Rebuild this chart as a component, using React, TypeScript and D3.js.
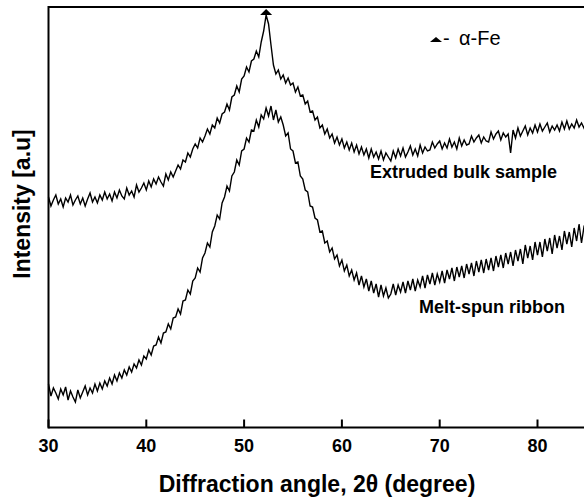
import * as d3 from "d3";

// XRD scan: 30..85 deg, 0.25 deg step
const scanStart = 30;
const scanStep = 0.25;

// intensity (a.u.), extruded bulk sample
const extruded = [
  231, 222, 228, 233, 224, 229, 221, 230, 226, 233, 223, 228, 232, 224, 230, 222,
  229, 235, 226, 231, 225, 233, 228, 236, 229, 234, 227, 236, 230, 238, 232, 229,
  240, 233, 237, 231, 243, 236, 240, 245, 238, 247, 241, 249, 244, 251, 246, 242,
  254, 248, 256, 251, 257, 263, 259, 268, 266, 275, 271, 279, 284, 280, 290, 286,
  292, 299, 294, 303, 300, 310, 305, 314, 316, 324, 318, 331, 333, 342, 336, 349,
  352, 361, 356, 367, 369, 377, 371, 386, 397, 413, 404, 383, 363, 354, 358, 349,
  353, 345, 350, 343, 345, 336, 341, 332, 333, 324, 327, 316, 317, 308, 311, 300,
  303, 294, 299, 290, 294, 285, 291, 283, 289, 280, 286, 278, 285, 276, 283, 274,
  281, 273, 279, 270, 279, 271, 276, 269, 277, 268, 275, 271, 267, 277, 270, 279,
  272, 280, 271, 276, 282, 273, 279, 272, 283, 275, 281, 277, 278, 286, 280, 284,
  287, 279, 285, 280, 289, 281, 286, 279, 290, 282, 288, 283, 284, 292, 286, 290,
  293, 285, 291, 287, 286, 296, 289, 294, 297, 288, 295, 291, 294, 275, 298, 290,
  300, 292, 297, 302, 293, 300, 295, 303, 296, 304, 297, 301, 305, 296, 302, 298,
  303, 297, 306, 299, 307, 299, 304, 300, 308, 301, 305, 300, 306,
];

// intensity (a.u.), melt-spun ribbon
const meltSpun = [
  44, 32, 40, 35, 29, 39, 33, 41, 28, 37, 31, 26, 38, 30, 36, 42,
  33, 40, 35, 44, 37, 45, 39, 47, 42, 50, 44, 53, 47, 55, 50, 58,
  53, 61, 56, 64, 60, 68, 63, 72, 69, 78, 73, 82, 83, 91, 85, 95,
  96, 104, 99, 110, 111, 119, 114, 127, 128, 138, 134, 147, 150, 160, 156, 170,
  175, 185, 181, 196, 202, 213, 209, 225, 231, 242, 237, 252, 256, 268, 263, 277,
  279, 290, 286, 298, 297, 308, 301, 313, 309, 320, 312, 322, 308, 318, 306, 311,
  303, 292, 295, 279, 277, 265, 266, 252, 249, 238, 236, 222, 221, 210, 208, 196,
  197, 185, 187, 176, 180, 169, 173, 162, 168, 157, 163, 152, 158, 148, 155, 143,
  152, 141, 149, 137, 147, 135, 144, 131, 143, 132, 140, 130, 134, 144, 133, 143,
  136, 146, 135, 147, 138, 149, 137, 148, 141, 152, 140, 153, 144, 155, 143, 154,
  146, 157, 145, 158, 149, 160, 147, 161, 151, 162, 150, 164, 154, 165, 152, 167,
  156, 168, 155, 169, 158, 170, 157, 172, 161, 173, 160, 175, 164, 176, 162, 178,
  167, 179, 164, 183, 170, 182, 168, 186, 173, 186, 171, 189, 177, 190, 174, 193,
  180, 192, 178, 197, 184, 196, 181, 200, 187, 204, 185, 201, 197,
];

const xTicks = [30, 40, 50, 60, 70, 80];
const alphaFePeaks = [52.25];

const width = 584;
const height = 502;
const font = "'Liberation Sans', Arial, sans-serif";

export default function App() {
  const x = d3.scaleLinear([30, 85], [48.5, 586.4]);
  const y = d3.scaleLinear([0, 421], [428, 7]);

  const line = d3
    .line<number>()
    .x((_, i) => x(scanStart + i * scanStep))
    .y((d) => y(d));

  const axisY = 427.5;

  return (
    <svg
      width={width}
      height={height}
      style={{ position: "absolute", left: 0, top: 0, background: "#fff" }}
      fontFamily={font}
    >
      {/* data */}
      <path d={line(extruded) ?? ""} fill="none" stroke="#000" strokeWidth={1.4} />
      <path d={line(meltSpun) ?? ""} fill="none" stroke="#000" strokeWidth={1.4} />

      {/* frame */}
      <line x1={48.5} y1={7} x2={width} y2={7} stroke="#000" strokeWidth={2} />
      <line x1={48.5} y1={6} x2={48.5} y2={axisY + 1} stroke="#000" strokeWidth={2} />
      <line x1={48.5} y1={axisY} x2={width} y2={axisY} stroke="#000" strokeWidth={2} />

      {/* ticks + labels */}
      {xTicks.map((t) => (
        <g key={t}>
          <line x1={x(t)} y1={axisY} x2={x(t)} y2={axisY - 8} stroke="#000" strokeWidth={2} />
          <text x={x(t)} y={452} textAnchor="middle" fontSize={18} fontWeight="bold">
            {t}
          </text>
        </g>
      ))}

      {/* peak markers */}
      {alphaFePeaks.map((p) => (
        <path
          key={p}
          d={`M${x(p) - 6},15 L${x(p) + 6},15 L${x(p)},9 Z`}
          fill="#000"
        />
      ))}

      {/* legend */}
      <path d="M430,42 L442,42 L436,37 Z" fill="#000" />
      <text x={443} y={45} fontSize={20}>
        -
      </text>
      <text x={459} y={45} fontSize={20}>
        α-Fe
      </text>

      {/* curve labels */}
      <text x={370} y={178} fontSize={18} fontWeight="bold">
        Extruded bulk sample
      </text>
      <text x={419} y={313} fontSize={18} fontWeight="bold">
        Melt-spun ribbon
      </text>

      {/* axis titles */}
      <text x={317} y={492} textAnchor="middle" fontSize={23} fontWeight="bold">
        Diffraction angle, 2θ (degree)
      </text>
      <text
        transform="translate(30,204) rotate(-90)"
        textAnchor="middle"
        fontSize={23}
        fontWeight="bold"
      >
        Intensity [a.u]
      </text>
    </svg>
  );
}
